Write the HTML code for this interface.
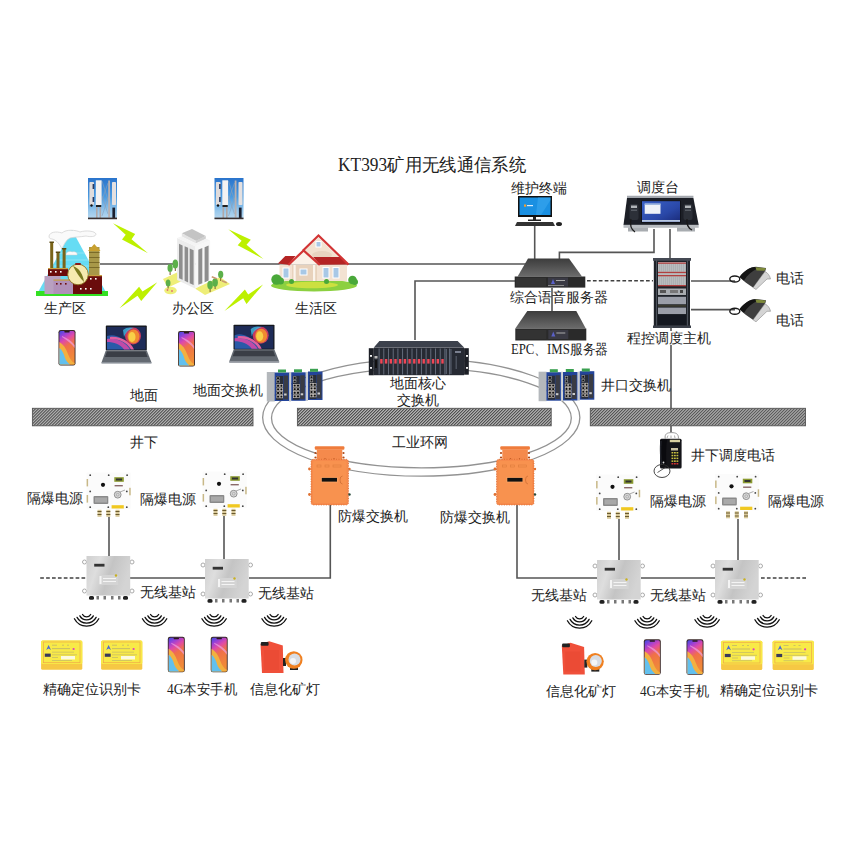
<!DOCTYPE html>
<html><head><meta charset="utf-8">
<style>
html,body{margin:0;padding:0;background:#fff;width:850px;height:850px;overflow:hidden}
svg{display:block}
text{font-family:"Liberation Serif",serif;fill:#222}
</style></head><body>
<svg width="850" height="850" viewBox="0 0 850 850">
<defs>
<pattern id="hatch" patternUnits="userSpaceOnUse" width="2.12" height="4" patternTransform="rotate(45)">
<rect width="2.12" height="4" fill="#b4b4b4"/><rect width="1.0" height="4" fill="#4e4e4e"/>
</pattern>
<linearGradient id="phoneScr" x1="0" y1="0" x2="0.3" y2="1">
<stop offset="0" stop-color="#3c4ce0"/><stop offset="0.18" stop-color="#9a40d8"/><stop offset="0.35" stop-color="#e04aa8"/>
<stop offset="0.55" stop-color="#f07048"/><stop offset="1" stop-color="#f08a38"/></linearGradient>
<linearGradient id="sky" x1="0" y1="0" x2="0" y2="1">
<stop offset="0" stop-color="#2a74cc"/><stop offset="0.45" stop-color="#4a9ae0"/><stop offset="0.8" stop-color="#98c8ec"/><stop offset="1" stop-color="#b8d8f0"/>
</linearGradient>
<linearGradient id="srvTop" x1="0" y1="0" x2="0" y2="1">
<stop offset="0" stop-color="#3c3c3c"/><stop offset="1" stop-color="#6b6b6b"/>
</linearGradient>
<linearGradient id="steel" x1="0" y1="0" x2="1" y2="0.3">
<stop offset="0" stop-color="#cfcfcf"/><stop offset="0.3" stop-color="#dedede"/><stop offset="0.6" stop-color="#c4c4c4"/><stop offset="1" stop-color="#d4d4d4"/>
</linearGradient>
<linearGradient id="orange" x1="0" y1="0" x2="1" y2="0">
<stop offset="0" stop-color="#f07a2a"/><stop offset="0.5" stop-color="#f79650"/><stop offset="1" stop-color="#e8732a"/>
</linearGradient>
</defs>

<!-- ===== LINES ===== -->
<g stroke="#555" stroke-width="1.6" fill="none">
<line x1="100" y1="264" x2="526" y2="264"/>
<polyline points="415,340 415,281 515,281"/>
<line x1="534.7" y1="226" x2="534.7" y2="259"/>
<polyline points="559.4,259 559.4,252.4 654,252.4 654,229"/>
<line x1="670" y1="229" x2="670" y2="259"/>
<line x1="552" y1="288" x2="552" y2="312"/>
<line x1="691" y1="281" x2="735" y2="281"/>
<line x1="691" y1="309.6" x2="735" y2="309.6"/>
<line x1="671" y1="327" x2="671" y2="331"/>
<line x1="671" y1="345" x2="671" y2="432.5"/>
<line x1="109" y1="517" x2="109" y2="557"/>
<line x1="224" y1="516" x2="224" y2="560"/>
<polyline points="130,578 206,578"/>
<polyline points="249,578 330.3,578 330.3,505"/>
<polyline points="517,505 517,578 597,578"/>
<line x1="641" y1="578" x2="715" y2="578"/>
<line x1="619" y1="519" x2="619" y2="560"/>
<line x1="738" y1="519" x2="738" y2="561"/>
</g>
<g stroke="#404040" stroke-width="1.6" stroke-dasharray="3.7,2.2" fill="none">
<line x1="587" y1="280.7" x2="653" y2="280.7"/>
<line x1="40.2" y1="578" x2="87" y2="578"/>
<line x1="761" y1="578" x2="806" y2="578"/>
</g>

<!-- ring -->
<g stroke="#929292" stroke-width="1.3" fill="none">
<ellipse cx="421.25" cy="417.5" rx="158.6" ry="58.7"/>
<ellipse cx="421.4" cy="418" rx="149.9" ry="49.8"/>
</g>

<!-- ground bars -->
<g stroke="#555" stroke-width="0.9">
<rect x="32.4" y="408.3" width="220.6" height="17.5" fill="url(#hatch)"/>
<rect x="297.4" y="408.3" width="253.8" height="17.5" fill="url(#hatch)"/>
<rect x="590.3" y="408.3" width="215.2" height="17.5" fill="url(#hatch)"/>
</g>


<!-- ===== DEVICES TOP ===== -->
<!-- towers -->
<g id="tower">
<rect x="88" y="178" width="29" height="41.2" fill="url(#sky)"/>
<g stroke="#8aa0b8" stroke-width="0.6" fill="none"><path d="M102,181 L108,200 M108,183 L102,200 M102,196 L108,214 M108,198 L102,216"/></g>
<rect x="108.2" y="180.5" width="1.8" height="37" fill="#b8b0b0"/>
<rect x="96" y="207" width="1.6" height="11" fill="#b0a8a8"/>
<rect x="99.5" y="207" width="1.6" height="11" fill="#b0a8a8"/>
<rect x="89.4" y="182" width="4.6" height="23" rx="0.8" fill="#e0dcdc"/>
<rect x="92.6" y="184" width="1.6" height="5" fill="#2a3a60"/>
<rect x="92.6" y="197" width="1.6" height="5" fill="#2a3a60"/>
<circle cx="91.5" cy="205.5" r="1.2" fill="#111"/>
<rect x="95.8" y="180.3" width="5.8" height="24.7" fill="#f4f2f2"/>
<rect x="96" y="205" width="5.2" height="2" fill="#222"/>
<rect x="112" y="182" width="4" height="23" rx="0.8" fill="#e4e0e0"/>
<rect x="112.4" y="207.6" width="2.7" height="10.5" fill="#1a2030"/>
<rect x="88" y="217.6" width="29" height="1.6" fill="#3a3030"/>
</g>
<use href="#tower" transform="translate(126.5,0)"/>
<!-- bolts -->
<g fill="#bdf000">
<polygon points="113,223.3 135.2,233.9 131.5,239.2 148,253.2 122,239.4 125.7,234.7"/>
<polygon points="119.5,308.3 139.1,286.8 142.5,291.6 157.3,282.3 141.2,300.9 137.5,295.8"/>
<polygon points="228.3,229.2 250.8,239.7 246.5,244.7 263.4,259 237.7,245.2 241.6,240.8"/>
<polygon points="224.4,311 244.9,289.5 248.2,294.5 263.1,284.5 246.5,303.9 243.2,298.3"/>
</g>
<!-- factory -->
<g>
<polygon points="72,230 108,296 36,296" fill="#66dcf4"/>
<g stroke="#a8ecf8" stroke-width="0.6"><line x1="60" y1="253" x2="85" y2="253"/><line x1="56" y1="260" x2="89" y2="260"/><line x1="53" y1="266" x2="92" y2="266"/></g>
<polygon points="72,230 74,235 70,235" fill="#2aa8c8"/>
<path d="M49,236 C50,232 56,231 62,233 C66,229 76,230 80,232 C86,230 95,231 96,234 C96,237 90,237 86,236 C80,237 74,237 70,238 C66,240 64,244 62,249 C60,245 57,240 52,239 C50,239 49,238 49,236 Z" fill="#fafafa" stroke="#cfcfcf" stroke-width="0.7"/>
<path d="M66,254 C67,251 71,251 72,252 C75,251 78,253 77,255 L66,255 Z" fill="#fafafa" stroke="#ccc" stroke-width="0.5"/>
<rect x="36" y="291" width="72" height="5" fill="#33e022"/>
<rect x="50.2" y="242" width="3" height="27" fill="#7a6418"/>
<rect x="49.5" y="241.5" width="4.4" height="1.5" fill="#5a4a10"/>
<rect x="56.5" y="252" width="3" height="17" fill="#7a6418"/>
<rect x="55.8" y="251.5" width="4.4" height="1.5" fill="#5a4a10"/>
<rect x="62.6" y="248.5" width="3" height="20.5" fill="#7a6418"/>
<rect x="61.9" y="248" width="4.4" height="1.5" fill="#5a4a10"/>
<rect x="48" y="268" width="20" height="8" fill="#6a0c0c"/>
<rect x="48" y="268" width="20" height="1.2" fill="#c8a040"/>
<rect x="44.5" y="276" width="16" height="18" fill="#b8a0c0"/>
<rect x="53.5" y="279.5" width="20" height="14.5" fill="#b090b8"/>
<rect x="53.5" y="279.5" width="20" height="1.2" fill="#c8a040"/>
<rect x="89" y="247" width="10.5" height="28" fill="#a89848"/>
<g fill="#7a6a28"><rect x="89" y="252" width="10.5" height="1"/><rect x="89" y="257" width="10.5" height="1"/><rect x="89" y="262" width="10.5" height="1"/><rect x="89" y="267" width="10.5" height="1"/></g>
<polygon points="94.3,244 88,251 100.5,251" fill="#c8a030"/>
<rect x="73" y="275" width="29" height="19" fill="#6a0c0c"/>
<rect x="86" y="275" width="16" height="1.2" fill="#c8a040"/>
<circle cx="78" cy="274.5" r="10.3" fill="#f6eab0" stroke="#8a7020" stroke-width="0.9"/>
<path d="M73,266 C79,268 83,274 84,282 C80,278 76,272 73,266 Z" fill="#7a7a20"/>
<rect x="75" y="263" width="6" height="2" rx="1" fill="#8a1a1a"/>
<g fill="#fff"><rect x="50" y="271" width="1.6" height="1.6"/><rect x="55" y="271" width="1.6" height="1.6"/><rect x="60" y="271" width="1.6" height="1.6"/><rect x="90" y="278" width="1.6" height="1.6"/><rect x="95" y="278" width="1.6" height="1.6"/><rect x="80" y="288" width="1.6" height="1.6"/><rect x="85" y="288" width="1.6" height="1.6"/><rect x="90" y="288" width="1.6" height="1.6"/></g>
<g fill="#6a0c0c"><rect x="56" y="283" width="1.6" height="1.6"/><rect x="60" y="283" width="1.6" height="1.6"/><rect x="65" y="283" width="1.6" height="1.6"/></g>
</g>
<!-- office building -->
<g>
<polygon points="163,279 177,272.5 182,281 168,287.5" fill="#eeee78"/>
<polygon points="195,288.5 220,277 230,284 205,295" fill="#eeee78"/>
<ellipse cx="170.5" cy="290.5" rx="6.2" ry="3.8" fill="#eeee78"/>
<g fill="#e07070"><circle cx="167.5" cy="290" r="0.9"/><circle cx="172" cy="291" r="0.9"/></g>
<polygon points="177.1,238 195.6,246.3 195.6,288.8 177.1,280.1" fill="#ececec"/>
<polygon points="195.2,246.3 210.2,240.4 209.8,279.3 195.2,288.8" fill="#f7f7f7"/>
<polygon points="177.1,238 192,232.5 210.2,240.4 195.2,246.3" fill="#f4f4f4"/>
<polygon points="181.8,236 192,231.6 205.8,238.4 196,243" fill="#dcdcdc"/>
<polygon points="181.8,233.3 192,229 205.8,236 196,240.7" fill="#c4c4c4"/>
<polygon points="181.8,233.3 196,240.7 196,243 181.8,236" fill="#e4e4e4"/>
<polygon points="196,240.7 205.8,236 205.8,238.4 196,243" fill="#d0d0d0"/>
<g fill="#8e8e8e">
<polygon points="179,243.8 182.6,245.4 182.6,279.8 179,278.2"/>
<polygon points="184.6,246.2 188.1,247.8 188.1,282.4 184.6,280.8"/>
<polygon points="189.7,248.6 193.6,250.3 193.6,285 189.7,283.3"/>
<polygon points="198.3,249.7 202.3,248.1 202.3,283.2 198.3,284.8"/>
<polygon points="204.6,247.2 208.6,245.6 208.6,280.6 204.6,282.2"/>
</g>
<g fill="#7a5a30"><rect x="174.8" y="268" width="1" height="3"/><rect x="169.6" y="272" width="1" height="3"/><rect x="167.6" y="286" width="1" height="2.5"/><rect x="209.6" y="289" width="1" height="3"/><rect x="214.6" y="286" width="1" height="3"/><rect x="220.2" y="278" width="1" height="3"/></g>
<g fill="#5cb04a"><ellipse cx="175.3" cy="264" rx="2.8" ry="4.5"/><ellipse cx="170.1" cy="268" rx="2.6" ry="4"/><ellipse cx="168.1" cy="283" rx="2.4" ry="3.5"/><ellipse cx="210.1" cy="285" rx="2.8" ry="4.2"/><ellipse cx="215.1" cy="282.5" rx="2.8" ry="4.2"/><ellipse cx="220.7" cy="274.5" rx="2.6" ry="3.8"/></g>
<g fill="#c89870"><polygon points="212,276 217,278 216.5,279.5 211.5,277.5"/><polygon points="222,280 227,282 226.5,283.5 221.5,281.5"/></g>
</g>
<!-- house -->
<g>
<ellipse cx="314" cy="285.5" rx="43" ry="6" fill="#8cd040"/>
<ellipse cx="312" cy="285" rx="26" ry="3.2" fill="#cce040"/>
<rect x="279.5" y="264.5" width="67.5" height="16.5" fill="#f3e2d2"/>
<rect x="292" y="265" width="25" height="16" fill="#e8d2bc"/>
<rect x="293.5" y="265" width="2.2" height="16" fill="#fbf4ec"/>
<rect x="313" y="265" width="2.2" height="16" fill="#fbf4ec"/>
<polygon points="318.5,237.5 345.5,264 304,264 304,251" fill="#f2e2d0"/>
<ellipse cx="322" cy="255" rx="10" ry="4" fill="#e8d4c0"/>
<polygon points="313.2,257 340.5,257 348,264.5 320,264.7" fill="#b42424"/>
<polygon points="277.9,263.6 285.3,255.9 295.5,255.9 288.5,264.7" fill="#b42424"/>
<polygon points="303.6,252 317.5,264.6 290,264.6" fill="#fbf2e8"/>
<polyline points="302.8,250.8 318.5,235.5 348.5,264.6" fill="none" stroke="#d23434" stroke-width="2.2"/>
<polyline points="288.3,265 303.6,250.5 319.8,265" fill="none" stroke="#d23434" stroke-width="2.2"/>
<g fill="#fff"><rect x="282.5" y="267.5" width="7" height="11"/><rect x="299.5" y="268.5" width="8" height="7"/><rect x="322.5" y="267" width="7" height="11.5"/><rect x="332.5" y="267" width="7" height="11.5"/><rect x="315.5" y="241" width="6" height="6.5"/></g>
<g fill="#a8c8e6"><rect x="283.5" y="268.5" width="5" height="9"/><rect x="300.5" y="269.5" width="6" height="5"/><rect x="323.5" y="268" width="5" height="9.5"/><rect x="333.5" y="268" width="5" height="9.5"/><rect x="316.5" y="242" width="4" height="4.5"/></g>
<g fill="#4aa83a"><circle cx="276.5" cy="279.5" r="5.2"/><circle cx="280.5" cy="281" r="3.5"/><circle cx="352.5" cy="280" r="4.3"/><circle cx="355" cy="282" r="3"/><circle cx="291.5" cy="281.5" r="2.5"/><circle cx="326.5" cy="281.5" r="2.5"/></g>
</g>
<!-- phones & laptops ground -->
<g id="phone">
<rect x="58.5" y="330" width="17" height="35.5" rx="2.2" fill="#3a2828"/>
<rect x="59.4" y="331" width="15.2" height="33.6" rx="1.6" fill="url(#phoneScr)"/>
<path d="M59.4,342 C63,344 66,348 68,354 C70,359 72,362 74.6,363 L74.6,364.6 L59.4,364.6 Z" fill="#f2b040"/>
<path d="M59.4,348 C62,350 64,354 65,358 C66,361 68,363 70,364.6 L59.4,364.6 Z" fill="#62c0ee"/>
<path d="M62,337 C67,340 72,344 74.6,348 L74.6,345 C72,341 67,338 62,336 Z" fill="#f0a0e0" opacity="0.7"/>
<rect x="64.3" y="331" width="5.4" height="1.4" rx="0.6" fill="#2a1a1a"/>
</g>
<use href="#phone" transform="translate(119.5,1)"/>
<g id="laptop">
<rect x="105.8" y="325.6" width="41" height="25" rx="0.8" fill="#15181e"/>
<rect x="107" y="326.9" width="38.6" height="22.6" fill="#1e2c58"/>
<path d="M107,336 C115,333 125,338 131,349.5 L107,349.5 Z" fill="#2a5aa8"/>
<path d="M107,339 C118,338 126,343 130,349.5 L124,349.5 C120,344 114,342 107,342 Z" fill="#c04aa8"/>
<path d="M110,337 C120,336 130,341 134,349.5 L131,349.5 C127,342 119,339 110,339 Z" fill="#e060a0"/>
<ellipse cx="133" cy="336" rx="8" ry="8.5" fill="#c83a60"/>
<ellipse cx="133.5" cy="336.5" rx="6" ry="7" fill="#f08a30"/>
<ellipse cx="132" cy="337" rx="3.5" ry="5" fill="#f8d048"/>
<path d="M123,330 C126,327 131,327 134,328 C129,329 126,332 124,337 Z" fill="#40b8e0" opacity="0.8"/>
<polygon points="105.8,350.6 146.8,350.6 151.5,362.4 101.5,362.4" fill="#646a72"/>
<polygon points="107,351.5 145.6,351.5 147.5,357 105,357" fill="#3a3e46"/>
<rect x="101.5" y="362" width="50" height="1.6" fill="#8a9098"/>
</g>
<use href="#laptop" transform="translate(127.7,-0.8)"/>
<!-- maintenance terminal -->
<g>
<rect x="518" y="196" width="34" height="21" fill="#111"/>
<rect x="519.5" y="197.5" width="31" height="17.5" fill="#1a90e2"/>
<polygon points="538,197.5 550.5,197.5 550.5,200 541,215 536,215" fill="#3aa8f0" opacity="0.6"/>
<rect x="524" y="204.5" width="2.2" height="2.2" fill="#f4a030"/><rect x="527" y="205" width="6" height="1.2" fill="#d8ecff"/>
<rect x="533" y="217" width="3" height="3" fill="#222"/>
<rect x="528" y="219.5" width="13" height="1.5" fill="#222"/>
<polygon points="517,222 553,222 555,226 515,226" fill="#333"/>
<ellipse cx="559" cy="224" rx="3" ry="2" fill="#222"/>
</g>
<!-- server 1 -->
<g id="server">
<polygon points="528,258.5 569,258.5 582,276.5 517.6,276.5" fill="url(#srvTop)"/>
<rect x="514.7" y="276.5" width="70.6" height="11.1" fill="#2a2a2a"/>
<rect x="516" y="278" width="30" height="8.5" fill="#333"/>
<rect x="548" y="277.5" width="20" height="9" fill="#3a3a44"/>
<polygon points="551,284 553,279 555,284" fill="#5a60c8"/>
<rect x="556" y="280" width="9" height="1" fill="#aaa"/>
<rect x="548" y="285" width="16" height="1" fill="#888"/>
</g>
<g transform="translate(0.3,52.5) scale(1,1)">
<polygon points="527,258.5 576,258.5 585.5,276 515,276" fill="url(#srvTop)"/>
<rect x="515" y="276" width="71" height="12" fill="#2a2a2a"/>
<rect x="516" y="277.5" width="30" height="9" fill="#333"/>
<rect x="548" y="277.5" width="20" height="9" fill="#3a3a44"/>
<polygon points="551,284 553,279 555,284" fill="#5a60c8"/>
<rect x="556" y="280" width="9" height="1" fill="#aaa"/>
</g>
<!-- console -->
<defs><linearGradient id="conScr" x1="0" y1="0" x2="1" y2="1"><stop offset="0" stop-color="#3a62c8"/><stop offset="0.6" stop-color="#2a48a8"/><stop offset="1" stop-color="#1a2a78"/></linearGradient></defs>
<g>
<polygon points="627,195.8 693.4,195.8 693.4,198.2 627,198.2" fill="#a4a8ae"/>
<polygon points="627,198 693.4,198 698.7,225 623.5,225" fill="#1c1f26"/>
<rect x="641" y="200.5" width="40" height="22.5" fill="#101218"/>
<rect x="642" y="201.2" width="38" height="20.8" fill="url(#conScr)"/>
<rect x="644.7" y="203.6" width="15.8" height="10.2" fill="#eef2f8"/>
<rect x="644.7" y="203.6" width="15.8" height="1.2" fill="#8aa8d8"/>
<rect x="642" y="220" width="38" height="1.8" fill="#b8c8e0"/>
<rect x="629.5" y="204" width="9" height="16" rx="2" fill="#2c3038"/>
<rect x="631" y="205.5" width="6" height="2.5" fill="#b0b4b8"/>
<rect x="631" y="209.5" width="6" height="1.5" fill="#555a62"/>
<rect x="683.5" y="204" width="9" height="16" rx="2" fill="#2c3038"/>
<rect x="685" y="205.5" width="6" height="2.5" fill="#b0b4b8"/>
<rect x="685" y="209.5" width="6" height="1.5" fill="#555a62"/>
<rect x="623.5" y="224.8" width="75.2" height="3" fill="#b8bcc0"/>
<rect x="628" y="227.5" width="20" height="4" fill="#a8acb0"/>
<rect x="677" y="227.5" width="18" height="4" fill="#a8acb0"/>
<path d="M631,219 q-2,9 4,13" stroke="#1a1a1a" stroke-width="1.3" fill="none"/>
<path d="M687,219 q-1,8 5,11" stroke="#1a1a1a" stroke-width="1.3" fill="none"/>
</g>
<!-- rack -->
<g>
<rect x="653.8" y="258" width="36.2" height="70" fill="#1e2228"/>
<rect x="656" y="260" width="1" height="67" fill="#4a505a"/><rect x="687" y="260" width="1" height="67" fill="#4a505a"/>
<rect x="653" y="258" width="38" height="2.8" fill="#454a54"/>
<rect x="658" y="262" width="28" height="24" fill="#b8bcbe"/>
<rect x="659" y="263.5" width="0.5" height="8" fill="#a0a4a8"/><rect x="659" y="276.5" width="0.5" height="8.5" fill="#a0a4a8"/>
<rect x="661" y="263.5" width="0.5" height="8" fill="#a0a4a8"/><rect x="661" y="276.5" width="0.5" height="8.5" fill="#a0a4a8"/>
<rect x="663" y="263.5" width="0.5" height="8" fill="#a0a4a8"/><rect x="663" y="276.5" width="0.5" height="8.5" fill="#a0a4a8"/>
<rect x="665" y="263.5" width="0.5" height="8" fill="#a0a4a8"/><rect x="665" y="276.5" width="0.5" height="8.5" fill="#a0a4a8"/>
<rect x="667" y="263.5" width="0.5" height="8" fill="#a0a4a8"/><rect x="667" y="276.5" width="0.5" height="8.5" fill="#a0a4a8"/>
<rect x="669" y="263.5" width="0.5" height="8" fill="#a0a4a8"/><rect x="669" y="276.5" width="0.5" height="8.5" fill="#a0a4a8"/>
<rect x="671" y="263.5" width="0.5" height="8" fill="#a0a4a8"/><rect x="671" y="276.5" width="0.5" height="8.5" fill="#a0a4a8"/>
<rect x="673" y="263.5" width="0.5" height="8" fill="#a0a4a8"/><rect x="673" y="276.5" width="0.5" height="8.5" fill="#a0a4a8"/>
<rect x="675" y="263.5" width="0.5" height="8" fill="#a0a4a8"/><rect x="675" y="276.5" width="0.5" height="8.5" fill="#a0a4a8"/>
<rect x="677" y="263.5" width="0.5" height="8" fill="#a0a4a8"/><rect x="677" y="276.5" width="0.5" height="8.5" fill="#a0a4a8"/>
<rect x="679" y="263.5" width="0.5" height="8" fill="#a0a4a8"/><rect x="679" y="276.5" width="0.5" height="8.5" fill="#a0a4a8"/>
<rect x="681" y="263.5" width="0.5" height="8" fill="#a0a4a8"/><rect x="681" y="276.5" width="0.5" height="8.5" fill="#a0a4a8"/>
<rect x="683" y="263.5" width="0.5" height="8" fill="#a0a4a8"/><rect x="683" y="276.5" width="0.5" height="8.5" fill="#a0a4a8"/>
<rect x="685" y="263.5" width="0.5" height="8" fill="#a0a4a8"/><rect x="685" y="276.5" width="0.5" height="8.5" fill="#a0a4a8"/>
<rect x="658" y="262.5" width="28" height="1.3" fill="#b04040"/>
<rect x="658" y="271.8" width="28" height="1.3" fill="#b04040"/>
<rect x="658" y="275" width="28" height="1.3" fill="#b04040"/>
<rect x="658" y="285" width="28" height="1.3" fill="#b04040"/>
<rect x="658" y="288.5" width="28" height="6.5" fill="#a8acb0"/>
<rect x="660" y="290" width="6" height="3" fill="#555"/><rect x="670" y="290" width="8" height="3" fill="#777"/><rect x="680" y="290" width="3" height="3" fill="#444"/>
<rect x="658" y="296.8" width="28" height="7.5" fill="#9a9ea8"/>
<rect x="658" y="304.8" width="28" height="2" fill="#3a3a30"/>
<rect x="658" y="307.6" width="28" height="6.4" fill="#9a9ea8"/>
<rect x="658" y="315" width="28" height="10" fill="#141820"/>
<rect x="653" y="325.5" width="38" height="2.5" fill="#3a3f48"/>
</g>
<!-- desk phones -->
<g id="dphone">
<ellipse cx="734.8" cy="279" rx="5" ry="3" fill="none" stroke="#1a1a1a" stroke-width="1.4"/>
<path d="M753,287.5 L765,271.5 C768,273 770,276 770.5,279 L767,279 L756,289.5 Z" fill="#d4d4d4" stroke="#777" stroke-width="0.5"/>
<path d="M739.5,277 C744,271 750,267 756,266.8 L766,268 L765.5,270.5 L753,287.5 C748,284 743,281 739.5,277 Z" fill="#3e3e3e"/>
<path d="M739.5,277 C744,271 750,267 755,267 L757.5,268.5 C752,271 747,275 744,280.5 Z" fill="#141414"/>
<polygon points="755.5,267.2 765.8,268.2 764.5,270.8 756.5,270.5" fill="#7e8a3a"/>
</g>
<use href="#dphone" transform="translate(0,32.3)"/>


<!-- ===== DEVICES MID ===== -->
<!-- core switch -->
<g>
<polygon points="379.4,340.9 457.6,340.9 464.1,347.6 373.8,347.6" fill="#3c414c"/>
<rect x="373.8" y="347.6" width="90.3" height="27.6" fill="#262a33"/>
<rect x="368.8" y="348.2" width="5" height="27.1" fill="#1c1f26"/>
<rect x="464.1" y="348.2" width="4.7" height="26.5" fill="#1c1f26"/>
<rect x="378.65" y="348.5" width="0.9" height="26" fill="#6a7282"/>
<rect x="383.35" y="348.5" width="0.9" height="26" fill="#6a7282"/>
<rect x="388.05" y="348.5" width="0.9" height="26" fill="#6a7282"/>
<rect x="392.75" y="348.5" width="0.9" height="26" fill="#6a7282"/>
<rect x="397.45" y="348.5" width="0.9" height="26" fill="#6a7282"/>
<rect x="402.15" y="348.5" width="0.9" height="26" fill="#6a7282"/>
<rect x="406.85" y="348.5" width="0.9" height="26" fill="#6a7282"/>
<rect x="411.55" y="348.5" width="0.9" height="26" fill="#6a7282"/>
<rect x="416.25" y="348.5" width="0.9" height="26" fill="#6a7282"/>
<rect x="420.95" y="348.5" width="0.9" height="26" fill="#6a7282"/>
<rect x="425.65" y="348.5" width="0.9" height="26" fill="#6a7282"/>
<rect x="430.35" y="348.5" width="0.9" height="26" fill="#6a7282"/>
<rect x="435.05" y="348.5" width="0.9" height="26" fill="#6a7282"/>
<rect x="439.75" y="348.5" width="0.9" height="26" fill="#6a7282"/>
<rect x="444.45" y="348.5" width="0.9" height="26" fill="#6a7282"/>
<rect x="449.15" y="348.5" width="0.9" height="26" fill="#6a7282"/>
<rect x="380.20" y="359" width="2.4" height="4.6" fill="#f04656"/>
<rect x="384.90" y="359" width="2.4" height="4.6" fill="#f04656"/>
<rect x="389.60" y="359" width="2.4" height="4.6" fill="#f04656"/>
<rect x="394.30" y="359" width="2.4" height="4.6" fill="#f04656"/>
<rect x="399.00" y="359" width="2.4" height="4.6" fill="#f04656"/>
<rect x="403.70" y="359" width="2.4" height="4.6" fill="#f04656"/>
<rect x="408.40" y="359" width="2.4" height="4.6" fill="#f04656"/>
<rect x="413.10" y="359" width="2.4" height="4.6" fill="#f04656"/>
<rect x="417.80" y="359" width="2.4" height="4.6" fill="#f04656"/>
<rect x="422.50" y="359" width="2.4" height="4.6" fill="#f04656"/>
<rect x="427.20" y="359" width="2.4" height="4.6" fill="#f04656"/>
<rect x="431.90" y="359" width="2.4" height="4.6" fill="#f04656"/>
<rect x="436.60" y="359" width="2.4" height="4.6" fill="#f04656"/>
<rect x="441.30" y="359" width="2.4" height="4.6" fill="#f04656"/>
<rect x="374.5" y="356" width="3" height="2.5" fill="#bbb"/><rect x="375" y="360" width="2" height="8" fill="#111"/>
<rect x="450.5" y="349" width="0.9" height="25" fill="#6a7282"/><rect x="445.8" y="349" width="0.9" height="25" fill="#6a7282"/>
<rect x="455" y="351" width="6" height="2" fill="#7a8090"/><rect x="455.5" y="356" width="1.5" height="13" fill="#4a505c"/>
<g fill="#f4f4f4"><rect x="370" y="355" width="2" height="1.8"/><rect x="370" y="367" width="2" height="1.8"/><rect x="466" y="355" width="2" height="1.8"/><rect x="466" y="367" width="2" height="1.8"/></g>
</g>
<!-- industrial switches -->
<g id="isw">
<rect x="266.8" y="372" width="8" height="29.5" fill="#b4b8bc"/>
<rect x="289" y="372" width="2" height="29.5" fill="#c8ccd0"/>
<rect x="306" y="372" width="2" height="29" fill="#c8ccd0"/>
<rect x="274.6" y="372.5" width="14.5" height="28.5" fill="#23449a"/>
<rect x="283.6" y="375.5" width="4.5" height="24" fill="#3a3c44"/>
<rect x="276.1" y="376.0" width="7" height="24" fill="#2a2e38"/>
<rect x="276.8" y="377.0" width="2.6" height="2.4" fill="#111" stroke="#bbb" stroke-width="0.5"/>
<rect x="276.8" y="380.5" width="2.6" height="2.4" fill="#111" stroke="#bbb" stroke-width="0.5"/>
<rect x="276.8" y="384.5" width="2.6" height="2.6" fill="#111" stroke="#d8d0c8" stroke-width="0.6"/>
<rect x="280.1" y="384.5" width="2.6" height="2.6" fill="#111" stroke="#d8d0c8" stroke-width="0.6"/>
<rect x="276.8" y="388.1" width="2.6" height="2.6" fill="#111" stroke="#d8d0c8" stroke-width="0.6"/>
<rect x="280.1" y="388.1" width="2.6" height="2.6" fill="#111" stroke="#d8d0c8" stroke-width="0.6"/>
<rect x="276.8" y="391.7" width="2.6" height="2.6" fill="#111" stroke="#d8d0c8" stroke-width="0.6"/>
<rect x="280.1" y="391.7" width="2.6" height="2.6" fill="#111" stroke="#d8d0c8" stroke-width="0.6"/>
<rect x="276.8" y="395.3" width="2.6" height="2.6" fill="#111" stroke="#d8d0c8" stroke-width="0.6"/>
<rect x="280.1" y="395.3" width="2.6" height="2.6" fill="#111" stroke="#d8d0c8" stroke-width="0.6"/>
<rect x="284.1" y="393.5" width="2.5" height="2" fill="#ccc"/>
<rect x="291.2" y="372.3" width="14.5" height="28.5" fill="#23449a"/>
<rect x="300.2" y="375.3" width="4.5" height="24" fill="#3a3c44"/>
<rect x="292.7" y="375.8" width="7" height="24" fill="#2a2e38"/>
<rect x="293.4" y="376.8" width="2.6" height="2.4" fill="#111" stroke="#bbb" stroke-width="0.5"/>
<rect x="293.4" y="380.3" width="2.6" height="2.4" fill="#111" stroke="#bbb" stroke-width="0.5"/>
<rect x="293.4" y="384.3" width="2.6" height="2.6" fill="#111" stroke="#d8d0c8" stroke-width="0.6"/>
<rect x="296.7" y="384.3" width="2.6" height="2.6" fill="#111" stroke="#d8d0c8" stroke-width="0.6"/>
<rect x="293.4" y="387.90000000000003" width="2.6" height="2.6" fill="#111" stroke="#d8d0c8" stroke-width="0.6"/>
<rect x="296.7" y="387.90000000000003" width="2.6" height="2.6" fill="#111" stroke="#d8d0c8" stroke-width="0.6"/>
<rect x="293.4" y="391.5" width="2.6" height="2.6" fill="#111" stroke="#d8d0c8" stroke-width="0.6"/>
<rect x="296.7" y="391.5" width="2.6" height="2.6" fill="#111" stroke="#d8d0c8" stroke-width="0.6"/>
<rect x="293.4" y="395.1" width="2.6" height="2.6" fill="#111" stroke="#d8d0c8" stroke-width="0.6"/>
<rect x="296.7" y="395.1" width="2.6" height="2.6" fill="#111" stroke="#d8d0c8" stroke-width="0.6"/>
<rect x="300.7" y="393.3" width="2.5" height="2" fill="#ccc"/>
<rect x="308" y="371.5" width="14.5" height="28.5" fill="#23449a"/>
<rect x="317" y="374.5" width="4.5" height="24" fill="#3a3c44"/>
<rect x="309.5" y="375.0" width="7" height="24" fill="#2a2e38"/>
<rect x="310.2" y="376.0" width="2.6" height="2.4" fill="#111" stroke="#bbb" stroke-width="0.5"/>
<rect x="310.2" y="379.5" width="2.6" height="2.4" fill="#111" stroke="#bbb" stroke-width="0.5"/>
<rect x="310.2" y="383.5" width="2.6" height="2.6" fill="#111" stroke="#d8d0c8" stroke-width="0.6"/>
<rect x="313.5" y="383.5" width="2.6" height="2.6" fill="#111" stroke="#d8d0c8" stroke-width="0.6"/>
<rect x="310.2" y="387.1" width="2.6" height="2.6" fill="#111" stroke="#d8d0c8" stroke-width="0.6"/>
<rect x="313.5" y="387.1" width="2.6" height="2.6" fill="#111" stroke="#d8d0c8" stroke-width="0.6"/>
<rect x="310.2" y="390.7" width="2.6" height="2.6" fill="#111" stroke="#d8d0c8" stroke-width="0.6"/>
<rect x="313.5" y="390.7" width="2.6" height="2.6" fill="#111" stroke="#d8d0c8" stroke-width="0.6"/>
<rect x="310.2" y="394.3" width="2.6" height="2.6" fill="#111" stroke="#d8d0c8" stroke-width="0.6"/>
<rect x="313.5" y="394.3" width="2.6" height="2.6" fill="#111" stroke="#d8d0c8" stroke-width="0.6"/>
<rect x="317.5" y="392.5" width="2.5" height="2" fill="#ccc"/>
<rect x="278" y="369.5" width="8" height="3" fill="#3aa050"/>
<rect x="294" y="369.3" width="8" height="3" fill="#3aa050"/>
<rect x="310" y="368.8" width="8" height="3" fill="#3aa050"/>
</g>
<use href="#isw" transform="translate(271.8,-0.3)"/>
<!-- orange explosion-proof switches -->
<g id="osw">
<rect x="314.8" y="446.2" width="29.6" height="3.5" rx="1" fill="#ef7c3c"/>
<rect x="316.8" y="449.5" width="25.5" height="10.5" fill="#f58a4c"/>
<g fill="#b04a18"><circle cx="315.5" cy="453" r="1.1"/><circle cx="343.5" cy="453" r="1.1"/><circle cx="315.5" cy="457.5" r="1.1"/><circle cx="343.5" cy="457.5" r="1.1"/><circle cx="325" cy="459" r="0.7"/><circle cx="334" cy="459" r="0.7"/></g>
<rect x="311" y="459.3" width="37.5" height="45.7" rx="2.5" fill="#f68a4c" stroke="#d86a30" stroke-width="0.8" stroke-dasharray="1,1.5"/>
<rect x="313" y="461" width="33.5" height="42" rx="1.5" fill="#f8924f"/>
<rect x="320.8" y="477" width="17" height="5.6" fill="#f8a060"/>
<rect x="321.8" y="477.9" width="15.2" height="3.7" fill="#111"/>
<path d="M342.5,476 a2.5,4 0 1 0 0,8" fill="none" stroke="#c86a30" stroke-width="0.7"/>
<g fill="none" stroke="#d87838" stroke-width="0.5"><rect x="317" y="465" width="4" height="2"/><rect x="325" y="465" width="4" height="2"/><rect x="333" y="465" width="8" height="2"/></g>
<g fill="#e07030"><circle cx="309.5" cy="469" r="1.4"/><circle cx="309.5" cy="494.5" r="1.4"/><circle cx="349.5" cy="469" r="1.2"/></g>
<circle cx="349.5" cy="494.5" r="1.2" fill="#2a4a3a"/>
</g>
<use href="#osw" transform="translate(185.5,0)"/>

<!-- ===== DEVICES UNDERGROUND ===== -->
<!-- telephone -->
<g>
<path d="M665.2,438.5 C664.5,434 667,432.6 671.5,432.6 C676,432.6 678.8,434 678.4,438.5" fill="none" stroke="#9a9a9a" stroke-width="1"/><path d="M667,438 l1,-2.5 M671,438 l0,-2.5 M675,438 l-0.5,-2.5" stroke="#777" stroke-width="0.6"/>
<rect x="660" y="438.8" width="21.6" height="29.8" rx="1.5" fill="#141418"/>
<path d="M660.3,440 C659.5,447 659.8,460 661.5,466 L666.5,466 C666,458 666,447 667,440 Z" fill="#0a0a0e"/><path d="M661,441 C660.5,448 660.5,458 661.5,465" stroke="#3a3e48" stroke-width="0.7" fill="none"/><circle cx="663.5" cy="462.5" r="0.9" fill="#ddd"/><line x1="657.5" y1="472.5" x2="666" y2="467" stroke="#333" stroke-width="0.8"/>
<rect x="669.8" y="439.8" width="10.2" height="2.4" fill="#d8d0a0"/>
<rect x="671" y="448" width="7" height="2.5" fill="#c8c0a0"/>
<g fill="#c8c040"><rect x="671.5" y="452" width="1.8" height="1.5"/><rect x="674" y="452" width="1.8" height="1.5"/><rect x="676.5" y="452" width="1.8" height="1.5"/><rect x="671.5" y="454.8" width="1.8" height="1.5"/><rect x="674" y="454.8" width="1.8" height="1.5"/><rect x="676.5" y="454.8" width="1.8" height="1.5"/><rect x="671.5" y="457.6" width="1.8" height="1.5"/><rect x="674" y="457.6" width="1.8" height="1.5"/><rect x="676.5" y="457.6" width="1.8" height="1.5"/><rect x="671.5" y="460.4" width="1.8" height="1.5"/><rect x="674" y="460.4" width="1.8" height="1.5"/><rect x="676.5" y="460.4" width="1.8" height="1.5"/></g>
<g fill="#d03030"><rect x="671.5" y="463" width="1.8" height="1.5"/><rect x="674" y="463" width="1.8" height="1.5"/><rect x="676.5" y="463" width="1.8" height="1.5"/></g>
<ellipse cx="662" cy="471" rx="8" ry="6.5" fill="none" stroke="#333" stroke-width="0.9"/>
</g>
<!-- power supplies -->
<g id="psu">
<rect x="86.6" y="472.6" width="44" height="36.2" fill="#fbfbfb"/>
<g fill="#444"><circle cx="90.2" cy="475.2" r="0.9"/><circle cx="108.7" cy="475.2" r="0.9"/><circle cx="127.1" cy="475.2" r="0.9"/><circle cx="90.2" cy="491.4" r="0.9"/><circle cx="126.8" cy="491.4" r="0.9"/><circle cx="90.2" cy="507.2" r="0.9"/><circle cx="108.3" cy="507.2" r="0.9"/><circle cx="126.8" cy="507.2" r="0.9"/></g>
<circle cx="103" cy="484.8" r="2.1" fill="#111"/>
<rect x="114.3" y="477.2" width="9.5" height="4.6" fill="#8a9a30"/>
<rect x="116" y="478.5" width="6" height="2" fill="#333"/>
<rect x="114.6" y="485" width="8.2" height="1.4" fill="#8a6a6a"/>
<rect x="93.5" y="496" width="14.8" height="8" rx="1" fill="#8a8a8a"/>
<rect x="95" y="497.5" width="12" height="5" fill="#a8a8a8"/>
<circle cx="117.7" cy="494.7" r="3.4" fill="#d8d8d8" stroke="#8a8a8a" stroke-width="0.9"/><circle cx="117.7" cy="494.7" r="1.4" fill="none" stroke="#999" stroke-width="0.6"/><path d="M120,492 l5,-2" stroke="#aaa" stroke-width="1"/>
<rect x="111.6" y="505.2" width="12.2" height="3.3" fill="#f0c820"/>
<g fill="#c8b888"><rect x="86.6" y="479" width="1.5" height="7.4"/><rect x="86.6" y="495" width="1.5" height="7.6"/><rect x="129.2" y="487.8" width="1.5" height="7.5"/></g>
<g fill="#d8c898"><rect x="97.5" y="509.8" width="4" height="7"/><rect x="106.3" y="509.8" width="4" height="7"/><rect x="115.5" y="509.8" width="4" height="7"/></g><g fill="#6a5a30"><rect x="97.5" y="511" width="4" height="1"/><rect x="106.3" y="511" width="4" height="1"/><rect x="115.5" y="511" width="4" height="1"/><rect x="97.5" y="514" width="4" height="1"/><rect x="106.3" y="514" width="4" height="1"/><rect x="115.5" y="514" width="4" height="1"/></g>
</g>
<use href="#psu" transform="translate(116,-1)"/>
<use href="#psu" transform="translate(509.5,2)"/>
<use href="#psu" transform="translate(628.5,1.5)"/>
<!-- base stations -->
<g id="bs">
<g fill="none" stroke="#aaa" stroke-width="1"><circle cx="84.5" cy="562" r="2"/><circle cx="84.5" cy="591" r="2"/><circle cx="132" cy="562" r="2"/><circle cx="132" cy="591" r="2"/></g>
<rect x="86.5" y="556" width="43.7" height="39.5" fill="url(#steel)"/>
<rect x="94.2" y="563.8" width="10.3" height="2.8" fill="#333"/>
<rect x="98.5" y="575" width="19.7" height="10" fill="#d4d4d4"/>
<g fill="#f4f4f4"><rect x="99.5" y="576" width="2" height="8"/><rect x="103" y="578" width="13" height="1"/><rect x="103" y="581" width="13" height="1"/></g>
<circle cx="116" cy="575.5" r="1.2" fill="#c8b020"/>
<g fill="#222"><rect x="89" y="596" width="5" height="3.8" rx="1.5"/><rect x="123" y="596" width="5" height="3.8" rx="1.5"/></g>
<g fill="#777"><rect x="96.5" y="596" width="2.5" height="3.5"/><rect x="103.5" y="596" width="2.5" height="3.5"/><rect x="111" y="596" width="2.5" height="3.5"/><rect x="118" y="596" width="2.5" height="3.5"/></g>
</g>
<use href="#bs" transform="translate(118.5,3)"/>
<use href="#bs" transform="translate(510.5,4)"/>
<use href="#bs" transform="translate(628.5,4)"/>
<!-- waves -->
<g id="wave" fill="none" stroke="#111" stroke-width="1.3" stroke-linecap="round">
<path d="M82.54,614.46 A4.6,4.6 0 0 0 90.66,614.46"/>
<path d="M79.89,615.87 A7.6,7.6 0 0 0 93.31,615.87"/>
<path d="M77.06,617.37 A10.8,10.8 0 0 0 96.14,617.37"/>
<path d="M74.42,618.78 A13.8,13.8 0 0 0 98.78,618.78"/>
</g>
<use href="#wave" transform="translate(68,0)"/>
<use href="#wave" transform="translate(127.5,0)"/>
<use href="#wave" transform="translate(187.5,0)"/>
<use href="#wave" transform="translate(493,2)"/>
<use href="#wave" transform="translate(560.5,2)"/>
<use href="#wave" transform="translate(620.5,1)"/>
<use href="#wave" transform="translate(680.5,1)"/>
<!-- cards -->
<g id="card">
<rect x="41.1" y="640.4" width="41.2" height="29.3" rx="1.5" fill="#f6c844"/>
<rect x="41.1" y="640.4" width="41.2" height="23.6" rx="1.5" fill="#f8ea48"/>
<rect x="43.4" y="642" width="36.6" height="20.7" fill="none" stroke="#f0a848" stroke-width="0.7"/>
<polygon points="46.2,650 48.6,645 51,650 48.6,648.5" fill="#4a6ad0"/>
<rect x="44.8" y="653.6" width="5.9" height="3.2" fill="#3a3a5a"/>
<circle cx="73.6" cy="649" r="1.1" fill="#e040c0"/>
<g fill="#b8b070"><rect x="52" y="644.8" width="5" height="0.7"/><rect x="62" y="644.8" width="2" height="0.7"/><rect x="67" y="644.8" width="2" height="0.7"/><rect x="52" y="648.3" width="18" height="0.8"/><rect x="52" y="651.8" width="22" height="0.6"/><rect x="52" y="654.6" width="25" height="0.6"/><rect x="52" y="657.4" width="6" height="0.6"/><rect x="52" y="660.2" width="20" height="0.6"/></g>
<rect x="61" y="656" width="14" height="3.5" fill="#fcfae0"/>
</g>
<use href="#card" transform="translate(60,0)"/>
<use href="#card" transform="translate(680,0.3)"/>
<use href="#card" transform="translate(731.5,0.3)"/>
<!-- 4G phones underground -->
<use href="#phone" transform="translate(109.3,306.8)"/>
<use href="#phone" transform="translate(152.2,306.8)"/>
<use href="#phone" transform="translate(585.3,309.3)"/>
<use href="#phone" transform="translate(628,309.3)"/>
<!-- lamps -->
<g id="lamp">
<polygon points="260.5,644 269.2,641.2 282.8,645.4 283.5,672.9 262,672.9" fill="#f0503a"/>
<rect x="264" y="650" width="15" height="20" fill="#e84832" opacity="0.6"/>
<rect x="260.8" y="642" width="7.8" height="3.7" rx="1" fill="#222"/>
<rect x="283" y="658" width="3" height="8" fill="#222"/>
<rect x="290" y="666" width="8" height="4" fill="#222"/>
<circle cx="293.8" cy="660" r="8.7" fill="#f08020"/>
<circle cx="294.5" cy="659.5" r="6" fill="#d8dde4"/>
<circle cx="293" cy="661" r="3" fill="#f4f6f8"/>
</g>
<use href="#lamp" transform="translate(301.3,1.6)"/>

<!-- ===== TEXT ===== -->
<g font-size="14">
<text x="338" y="171" font-size="18" textLength="188" lengthAdjust="spacingAndGlyphs">KT393矿用无线通信系统</text>
<text x="511" y="193">维护终端</text>
<text x="637" y="192">调度台</text>
<text x="44" y="313">生产区</text>
<text x="172" y="313">办公区</text>
<text x="295" y="313">生活区</text>
<text x="510" y="302">综合语音服务器</text>
<text x="511" y="354" textLength="97" lengthAdjust="spacingAndGlyphs">EPC、IMS服务器</text>
<text x="776" y="283">电话</text>
<text x="776" y="325">电话</text>
<text x="627" y="343">程控调度主机</text>
<text x="130" y="400">地面</text>
<text x="193" y="395">地面交换机</text>
<text x="390" y="388">地面核心</text>
<text x="397" y="405">交换机</text>
<text x="601" y="390">井口交换机</text>
<text x="130" y="447">井下</text>
<text x="392" y="447">工业环网</text>
<text x="691" y="460">井下调度电话</text>
<text x="27" y="503">隔爆电源</text>
<text x="140" y="504">隔爆电源</text>
<text x="650" y="506">隔爆电源</text>
<text x="768" y="506">隔爆电源</text>
<text x="338" y="521">防爆交换机</text>
<text x="440" y="522">防爆交换机</text>
<text x="140" y="597">无线基站</text>
<text x="258" y="598">无线基站</text>
<text x="531" y="600">无线基站</text>
<text x="650" y="600">无线基站</text>
<text x="43" y="694">精确定位识别卡</text>
<text x="167" y="694" textLength="70" lengthAdjust="spacingAndGlyphs">4G本安手机</text>
<text x="250" y="694">信息化矿灯</text>
<text x="546" y="696">信息化矿灯</text>
<text x="640" y="696" textLength="69" lengthAdjust="spacingAndGlyphs">4G本安手机</text>
<text x="720" y="695">精确定位识别卡</text>
</g>
</svg>
</body></html>
